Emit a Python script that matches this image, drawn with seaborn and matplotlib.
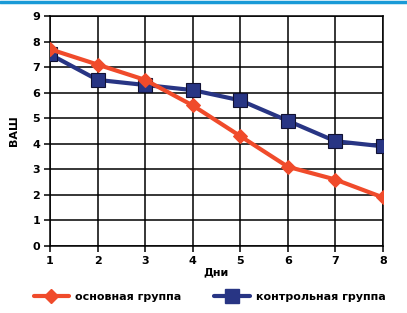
import matplotlib
matplotlib.use("Agg")
import matplotlib.pyplot as plt
import seaborn as sns
import pandas as pd
from matplotlib.lines import Line2D

days = [1, 2, 3, 4, 5, 6, 7, 8]
main_group = [7.7, 7.1, 6.5, 5.5, 4.3, 3.1, 2.6, 1.9]
control_group = [7.5, 6.5, 6.3, 6.1, 5.7, 4.9, 4.1, 3.9]
yticks = [0, 1, 2, 3, 4, 5, 6, 7, 8, 9]
label_main = "основная группа"
label_control = "контрольная группа"

RED = "#f04b2b"
BLUE = "#283584"

sns.set_theme(style="white")
plt.rcParams["font.family"] = ["DejaVu Sans"]
plt.rcParams["text.color"] = "black"
plt.rcParams["xtick.color"] = "black"
plt.rcParams["ytick.color"] = "black"
plt.rcParams["axes.labelcolor"] = "black"

df = pd.DataFrame({
    "day": days * 2,
    "val": main_group + control_group,
    "grp": [label_main] * len(days) + [label_control] * len(days),
})

fig = plt.figure(figsize=(4.07, 3.13), dpi=100)
ax = fig.add_axes([50/407, 1-246/313, 333/407, 230/313])

sns.lineplot(data=df[df.grp == label_control], x="day", y="val", ax=ax,
             color=BLUE, lw=3.0, marker="s", markersize=10,
             markeredgecolor="#111133", markeredgewidth=0.8, zorder=3, legend=False)
sns.lineplot(data=df[df.grp == label_main], x="day", y="val", ax=ax,
             color=RED, lw=3.0, marker="D", markersize=7,
             markeredgecolor=RED, zorder=4, legend=False)

ax.set_xlim(1, 8)
ax.set_ylim(0, 9)
ax.set_xticks(days)
ax.set_yticks(yticks)
ax.grid(True, color="black", lw=1.1)
ax.set_axisbelow(True)
for s in ["left", "bottom", "top", "right"]:
    ax.spines[s].set_visible(True)
    ax.spines[s].set_color("black")
    ax.spines[s].set_linewidth(1.1)
ax.tick_params(axis="both", length=4, width=1.1, color="black", direction="out",
               labelsize=8, pad=3, bottom=True, left=True, labelcolor="black")
for t in ax.get_xticklabels() + ax.get_yticklabels():
    t.set_fontweight("bold")
ax.set_xlabel("Дни", fontsize=8, fontweight="bold", labelpad=1, color="black")
ax.set_ylabel("ВАШ", fontsize=8, fontweight="bold", labelpad=10, color="black")

# top blue rule
fig.add_artist(Line2D([0, 1], [1-2/313, 1-2/313], color="#1a9ad7", lw=2.5,
                      transform=fig.transFigure))

handles = [
    Line2D([], [], color=RED, lw=3.0, marker="D", markersize=7),
    Line2D([], [], color=BLUE, lw=3.0, marker="s", markersize=10),
]
fig.legend(handles, [label_main, label_control], loc="center",
           bbox_to_anchor=(209.5/407, 1-297/313), ncol=2, frameon=False,
           prop={"size": 8, "weight": "bold"}, handlelength=3.2,
           columnspacing=3.0, handletextpad=0.5, labelcolor="black")

fig.savefig("out.png", dpi=100, facecolor="white")
